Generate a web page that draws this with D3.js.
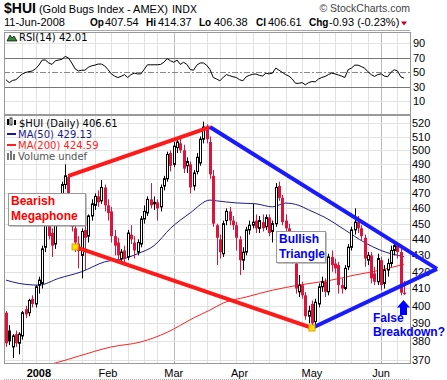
<!DOCTYPE html>
<html>
<head>
<meta charset="utf-8">
<script src="https://cdn.jsdelivr.net/npm/d3@7"></script>
<style>
body { margin: 0; background: #fff; }
svg { display: block; }
</style>
</head>
<body>
<svg id="chart" width="447" height="380"></svg>
<script>
// trading days shown on the chart
var dates = ("2007-12-17 2007-12-18 2007-12-19 2007-12-20 2007-12-21 2007-12-24 2007-12-26 2007-12-27 2007-12-28 2007-12-31 " +
  "2008-01-02 2008-01-03 2008-01-04 2008-01-07 2008-01-08 2008-01-09 2008-01-10 2008-01-11 2008-01-14 2008-01-15 2008-01-16 " +
  "2008-01-17 2008-01-18 2008-01-22 2008-01-23 2008-01-24 2008-01-25 2008-01-28 2008-01-29 2008-01-30 2008-01-31 " +
  "2008-02-01 2008-02-04 2008-02-05 2008-02-06 2008-02-07 2008-02-08 2008-02-11 2008-02-12 2008-02-13 2008-02-14 2008-02-15 " +
  "2008-02-19 2008-02-20 2008-02-21 2008-02-22 2008-02-25 2008-02-26 2008-02-27 2008-02-28 2008-02-29 " +
  "2008-03-03 2008-03-04 2008-03-05 2008-03-06 2008-03-07 2008-03-10 2008-03-11 2008-03-12 2008-03-13 2008-03-14 " +
  "2008-03-17 2008-03-18 2008-03-19 2008-03-20 2008-03-24 2008-03-25 2008-03-26 2008-03-27 2008-03-28 2008-03-31 " +
  "2008-04-01 2008-04-02 2008-04-03 2008-04-04 2008-04-07 2008-04-08 2008-04-09 2008-04-10 2008-04-11 2008-04-14 2008-04-15 " +
  "2008-04-16 2008-04-17 2008-04-18 2008-04-21 2008-04-22 2008-04-23 2008-04-24 2008-04-25 2008-04-28 2008-04-29 2008-04-30 " +
  "2008-05-01 2008-05-02 2008-05-05 2008-05-06 2008-05-07 2008-05-08 2008-05-09 2008-05-12 2008-05-13 2008-05-14 2008-05-15 " +
  "2008-05-16 2008-05-19 2008-05-20 2008-05-21 2008-05-22 2008-05-23 2008-05-27 2008-05-28 2008-05-29 2008-05-30 " +
  "2008-06-02 2008-06-03 2008-06-04 2008-06-05 2008-06-06 2008-06-09 2008-06-10 2008-06-11").split(" ");

var open = [396,386,377,384,379,383,398,396,404,401, 412,413,435,450,444,437,452,464,476,481,466,447,433,430,446,442,455,462,468,465,474,
  462,458,442,438,428,433,429,443,438,432,437,453,457,466,463,464,461,475,480,498,
  490,502,505,500,489,490,475,485,491,508,517,506,482,449,440,431,452,458,452,449,
  440,427,432,446,449,452,447,451,448,454,445,450,475,467,452,447,443,425,408,412,406,394,
  401,391,401,411,414,408,429,425,424,412,410,423,435,446,451,447,441,427,430,419,414,
  427,413,421,425,433,436,432,407.54];
var high = [397,389,384,386,385,397,400,404,406,412, 417,436,456,452,447,455,466,478,490,483,468,449,442,447,458,456,466,470,472,479,476,
  466,461,446,441,434,436,446,449,442,440,455,462,468,477,468,466,476,482,499,500,
  506,508,509,504,495,492,486,498,510,521,519,510,486,450,443,452,460,461,455,451,
  442,435,448,452,463,456,455,456,456,456,452,477,478,469,456,450,445,428,418,414,408,400,
  403,404,413,417,416,431,433,428,426,416,424,437,448,460,455,449,443,432,432,423,431,
  429,424,428,436,439,438,434,414.37];
var low = [377,378,371,377,373,381,393,394,399,399, 407,410,432,440,429,434,449,461,473,466,445,432,422,416,421,438,452,459,461,463,458,
  452,438,430,426,425,424,427,437,428,430,435,450,455,460,459,452,458,472,478,485,
  488,498,498,484,484,470,472,483,489,505,505,480,448,424,428,429,449,449,446,433,
  418,421,430,443,447,444,444,445,446,442,438,448,465,449,445,440,425,407,405,404,392,390,
  387,389,399,408,405,406,420,419,407,407,409,421,433,443,444,439,423,424,413,412,412,
  409,410,417,423,430,428,406,406.38];
var close = [379,380,383,379,384,396,395,403,401,411, 415,434,453,442,436,452,463,476,482,468,448,438,437,445,441,455,463,468,464,474,462,
  457,442,436,430,432,428,444,440,433,438,453,458,466,462,464,460,474,480,497,489,
  503,506,500,487,492,474,484,495,508,517,508,483,450,441,432,450,458,452,449,441,
  427,432,446,449,451,447,452,447,454,444,450,474,467,451,447,443,427,410,412,406,394,397,
  390,402,411,414,408,429,424,422,412,410,422,435,446,451,447,442,428,430,416,414,428,
  412,421,425,433,436,432,407.54,406.61];

var rsi = [40,36,39,40,44,48,50,51,52,55, 60,67,67,63,61,66,67,68,72,70,63,55,52,53,53,57,59,60,61.5,61.5,59,
  54,48,45,43,44.5,47,43,47,49,48,48,54,60.5,60.5,60.5,60.5,61,64,69,66,
  64,67,61,64,61,54,53,60,63,63,60,54,43,41,38.5,43,47,45.5,44,43,
  40,38.5,44,46,47.5,47.8,46,45,49,48,49,56,53,50,47,45,41,35,35,36,33,36,
  37.5,37,41,43,44.5,47,49,48,46.5,45,43,53.7,56,60,60,58,56,51,47,44.5,47,
  48,45,44,50,53.7,52,44,42.01];

// moving averages at sample dates
var ma50 = [["2007-12-17",415],["2007-12-21",413],["2008-01-02",412],["2008-01-10",416],["2008-01-22",420],
  ["2008-01-31",426],["2008-02-08",428],["2008-02-14",431],["2008-02-22",436],["2008-02-29",447],
  ["2008-03-10",457],["2008-03-18",465.5],["2008-03-20",465],["2008-03-31",463.6],["2008-04-08",463],
  ["2008-04-15",461],["2008-04-21",463.5],["2008-04-25",462],["2008-04-30",459],["2008-05-07",454],
  ["2008-05-15",446],["2008-05-23",438],["2008-06-02",433],["2008-06-11",429.13]];
var ma200 = [["2007-12-28",366],["2008-01-09",368.4],["2008-01-18",372],["2008-02-04",377],["2008-02-15",379.7],
  ["2008-02-28",385],["2008-03-11",393],["2008-03-18",397.5],["2008-03-25",401.5],["2008-04-03",405],
  ["2008-04-15",409],["2008-04-25",412],["2008-05-09",415],["2008-05-20",418],["2008-06-02",421],["2008-06-11",424.59]];

// drawn pattern lines
var megaUpper = [["2008-01-15",482],["2008-03-18",517]];
var megaLower = [["2008-01-17",435.2],["2008-05-01",387.4]];
var triUpper = [["2008-03-18",517],["2008-06-25",421.7]];
var triLower = [["2008-05-01",387.4],["2008-06-25",421.7]];
var pivots = [["2008-01-17",435.2],["2008-05-01",387.4]];

var priceTicks = [370,380,390,400,410,420,430,440,450,460,470,480,490,500,510,520];
var rsiTicks = [10,30,50,70,90];
var monthTicks = [["2008-01-02","2008"],["2008-02-01","Feb"],["2008-03-03","Mar"],["2008-04-01","Apr"],["2008-05-01","May"],["2008-06-02","Jun"]];
var quote = [["Op","407.54",90,105],["Hi","414.37",146,158],["Lo","406.38",199,214],["Cl","406.61",256,268],["Chg","-0.93 (-0.23%)",309,329]];

var svg = d3.select("#chart");
var left = 4, right = 410;
var rsiTop = 32, rsiBot = 114, pTop = 115, pBot = 363;

// bar index of a date (counts weekdays past the last bar)
function idx(d) {
  var i = dates.indexOf(d);
  if (i >= 0) return i;
  var last = new Date(dates[dates.length - 1] + "T00:00:00Z"), t = new Date(d + "T00:00:00Z"), n = dates.length - 1;
  while (last < t) { last.setUTCDate(last.getUTCDate() + 1); var w = last.getUTCDay(); if (w > 0 && w < 6) n++; }
  return n;
}

var x = d3.scaleLinear().domain([-0.6, 122.8]).range([left, right]);
var y = d3.scaleLog().domain([368.4, 526]).range([pBot, pTop]);
var yr = d3.scaleLinear().domain([-7.2, 105.6]).range([rsiBot, rsiTop]);

var font = "'Liberation Sans', Arial, sans-serif";

// header
var h1 = svg.append("text").attr("x", 4).attr("y", 13).attr("font-family", font).attr("font-size", 11);
h1.append("tspan").attr("font-size", 14).attr("font-weight", "bold").text("$HUI");
h1.append("tspan").attr("dx", 3).text("(Gold Bugs Index - AMEX)");
h1.append("tspan").attr("dx", 4).attr("font-size", 10).attr("font-family", "'DejaVu Sans', sans-serif").text("INDX");
svg.append("text").attr("x", 410).attr("y", 12).attr("text-anchor", "end").attr("font-family", font)
  .attr("font-size", 10.5).attr("fill", "#444").text("\u00a9 StockCharts.com");

var h2 = svg.append("text").attr("y", 26).attr("font-family", font).attr("font-size", 11);
h2.append("tspan").attr("x", 4).text("11-Jun-2008");
quote.forEach(function(p) {
  h2.append("tspan").attr("x", p[2]).attr("font-weight", "bold").attr("font-size", 10).text(p[0]);
  h2.append("tspan").attr("x", p[3]).text(p[1]);
});
svg.append("path").attr("d", "M401,21.5 L407,21.5 L404,25.5 Z").attr("fill", "#c00020");
svg.append("line").attr("x1", 4).attr("x2", 410).attr("y1", 30.5).attr("y2", 30.5).attr("stroke", "#aaa");

// grid helpers
var weekStarts = dates.filter(function(d, i) {
  return i > 0 && new Date(d + "T00:00:00Z").getUTCDay() < new Date(dates[i - 1] + "T00:00:00Z").getUTCDay();
});
var monthStarts = monthTicks.map(function(m) { return m[0]; });

function vgrid(g, top, bot) {
  g.selectAll("line.w").data(weekStarts).enter().append("line")
    .attr("x1", function(d) { return Math.round(x(idx(d))) + 0.5; })
    .attr("x2", function(d) { return Math.round(x(idx(d))) + 0.5; })
    .attr("y1", top).attr("y2", bot)
    .attr("stroke", function(d) { return monthStarts.indexOf(d) >= 0 ? "#bbb" : "#e2e2e2"; });
}

// RSI panel
var rp = svg.append("g");
vgrid(rp, rsiTop, rsiBot);
rp.selectAll("line.h").data(rsiTicks).enter().append("line")
  .attr("x1", left).attr("x2", right)
  .attr("y1", function(d) { return Math.round(yr(d)) + 0.5; })
  .attr("y2", function(d) { return Math.round(yr(d)) + 0.5; })
  .attr("stroke", function(d) { return d == 30 || d == 70 ? "#777" : (d == 50 ? "#888" : "#e2e2e2"); })
  .attr("stroke-dasharray", function(d) { return d == 50 ? "6,2,2,2" : null; });
rp.append("path").datum(rsi)
  .attr("d", d3.line().x(function(d, i) { return x(i); }).y(function(d) { return yr(d); }))
  .attr("fill", "none").attr("stroke", "#000").attr("stroke-width", 1);
rp.selectAll("text.t").data(rsiTicks).enter().append("text")
  .attr("x", 413).attr("y", function(d) { return yr(d) + 4; })
  .attr("font-family", font).attr("font-size", 11).text(function(d) { return d; });
rp.append("path").attr("d", "M7,41 L10,35 L12,38 L14,36 L17,41 Z").attr("fill", "#3a8a3a").attr("stroke", "#000").attr("stroke-width", 0.7);
rp.append("text").attr("x", 19).attr("y", 41).attr("font-family", "'DejaVu Sans', sans-serif").attr("font-size", 10)
  .text("RSI(14) 42.01");

// price panel
var pp = svg.append("g");
vgrid(pp, pTop, pBot);
pp.selectAll("line.h").data(priceTicks).enter().append("line")
  .attr("x1", left).attr("x2", right)
  .attr("y1", function(d) { return Math.round(y(d)) + 0.5; })
  .attr("y2", function(d) { return Math.round(y(d)) + 0.5; })
  .attr("stroke", "#e2e2e2");
pp.selectAll("text.t").data(priceTicks).enter().append("text")
  .attr("x", 412).attr("y", function(d) { return y(d) + 4; })
  .attr("font-family", font).attr("font-size", 11).text(function(d) { return d; });

svg.append("clipPath").attr("id", "pclip").append("rect")
  .attr("x", left).attr("y", pTop).attr("width", right - left).attr("height", pBot - pTop);
var plot = pp.append("g").attr("clip-path", "url(#pclip)");

var maLine = d3.line().curve(d3.curveMonotoneX)
  .x(function(d) { return x(idx(d[0])); }).y(function(d) { return y(d[1]); });
plot.append("path").datum(ma200).attr("d", maLine).attr("fill", "none").attr("stroke", "#ff2020").attr("stroke-width", 1);
plot.append("path").datum(ma50).attr("d", maLine).attr("fill", "none").attr("stroke", "#1a1a8c").attr("stroke-width", 1);

var bars = plot.selectAll("g.bar").data(dates).enter().append("g");
bars.each(function(d, i) {
  var g = d3.select(this), cx = Math.round(x(i)) + 0.5;
  var up = i == 0 ? close[i] >= open[i] : close[i] >= close[i - 1];
  var col = up ? "#000" : "#dc143c";
  var hollow = close[i] > open[i];
  var top = y(Math.max(open[i], close[i])), bot = y(Math.min(open[i], close[i]));
  g.append("line").attr("x1", cx).attr("x2", cx).attr("y1", y(high[i])).attr("y2", y(low[i])).attr("stroke", col);
  if (hollow) {
    g.append("rect").attr("x", cx - 1).attr("y", top).attr("width", 2).attr("height", Math.max(1, bot - top))
      .attr("fill", "#fff").attr("stroke", col).attr("stroke-width", 1);
  } else {
    g.append("rect").attr("x", cx - 1.5).attr("y", top).attr("width", 3).attr("height", Math.max(1, bot - top))
      .attr("fill", col);
  }
});

// legend
var lg = pp.append("g").attr("font-family", "'DejaVu Sans', sans-serif").attr("font-size", 10);
lg.append("rect").attr("x", 7).attr("y", 119).attr("width", 2).attr("height", 6).attr("fill", "#000");
lg.append("rect").attr("x", 10).attr("y", 118).attr("width", 2).attr("height", 7).attr("fill", "none").attr("stroke", "#000").attr("stroke-width", 0.8);
lg.append("rect").attr("x", 14).attr("y", 120).attr("width", 2).attr("height", 5).attr("fill", "#000");
lg.append("text").attr("x", 19).attr("y", 127).text("$HUI (Daily) 406.61");
lg.append("rect").attr("x", 7).attr("y", 133).attr("width", 9).attr("height", 2).attr("fill", "#1a1a8c");
lg.append("text").attr("x", 18).attr("y", 138).attr("fill", "#1a1a8c").text("MA(50) 429.13");
lg.append("rect").attr("x", 7).attr("y", 144).attr("width", 9).attr("height", 2).attr("fill", "#ff2020");
lg.append("text").attr("x", 18).attr("y", 149).attr("fill", "#ff2020").text("MA(200) 424.59");
[[7, 153, 7], [10, 151, 9], [13, 154, 6]].forEach(function(b) {
  lg.append("rect").attr("x", b[0]).attr("y", b[1]).attr("width", 2).attr("height", b[2]).attr("fill", "#777");
});
lg.append("text").attr("x", 18).attr("y", 160).attr("fill", "#555").text("Volume undef");

// frames
svg.append("rect").attr("x", left + 0.5).attr("y", rsiTop + 0.5).attr("width", right - left).attr("height", rsiBot - rsiTop)
  .attr("fill", "none").attr("stroke", "#999");
svg.append("rect").attr("x", left + 0.5).attr("y", pTop + 0.5).attr("width", right - left).attr("height", pBot - pTop)
  .attr("fill", "none").attr("stroke", "#999");

// x axis labels
svg.selectAll("text.m").data(monthTicks).enter().append("text")
  .attr("x", function(d) { return x(idx(d[0])); }).attr("y", 377)
  .attr("text-anchor", "middle").attr("font-family", font).attr("font-size", 11)
  .attr("font-weight", function(d) { return d[1] == "2008" ? "bold" : null; })
  .text(function(d) { return d[1]; });
svg.append("line").attr("x1", left).attr("x2", right).attr("y1", 379.5).attr("y2", 379.5)
  .attr("stroke", "#aaa").attr("stroke-dasharray", "1,1");

// pattern annotations
var pl = d3.line().x(function(d) { return x(idx(d[0])); }).y(function(d) { return y(d[1]); });
var ann = svg.append("g");
[[megaUpper, "#ff1a1a"], [megaLower, "#ff1a1a"], [triUpper, "#1a1aff"], [triLower, "#1a1aff"]].forEach(function(p) {
  ann.append("path").datum(p[0]).attr("d", pl).attr("fill", "none").attr("stroke", p[1]).attr("stroke-width", 4);
});
ann.selectAll("rect.pv").data(pivots).enter().append("rect")
  .attr("x", function(d) { return x(idx(d[0])) - 3; }).attr("y", function(d) { return y(d[1]) - 3; })
  .attr("width", 6).attr("height", 6).attr("fill", "#ffe000").attr("stroke", "#e0a000");

function box(bx, by, bw, bh, lines, col) {
  ann.append("rect").attr("x", bx + 1.5).attr("y", by + 1.5).attr("width", bw).attr("height", bh).attr("fill", "#888");
  ann.append("rect").attr("x", bx + 0.5).attr("y", by + 0.5).attr("width", bw).attr("height", bh).attr("fill", "#fff").attr("stroke", "#999");
  lines.forEach(function(t, k) {
    ann.append("text").attr("x", bx + 3).attr("y", by + 12 + k * 14.5).attr("fill", col)
      .attr("font-family", font).attr("font-size", 12).attr("font-weight", "bold").text(t);
  });
}
box(8, 193, 77, 32, ["Bearish", "Megaphone"], "#ff0000");
box(276, 231, 49, 31, ["Bullish", "Triangle"], "#0000ff");

ann.append("path").attr("d", "M403.5,300 L410,307.5 L407,307.5 L407,315 L400,315 L400,307.5 L397,307.5 Z").attr("fill", "#0000ff");
ann.append("text").attr("x", 373).attr("y", 322).attr("fill", "#0000ff").attr("font-family", font)
  .attr("font-size", 12).attr("font-weight", "bold").text("False");
ann.append("text").attr("x", 373).attr("y", 335.5).attr("fill", "#0000ff").attr("font-family", font)
  .attr("font-size", 12).attr("font-weight", "bold").text("Breakdown?");
</script>
</body>
</html>
